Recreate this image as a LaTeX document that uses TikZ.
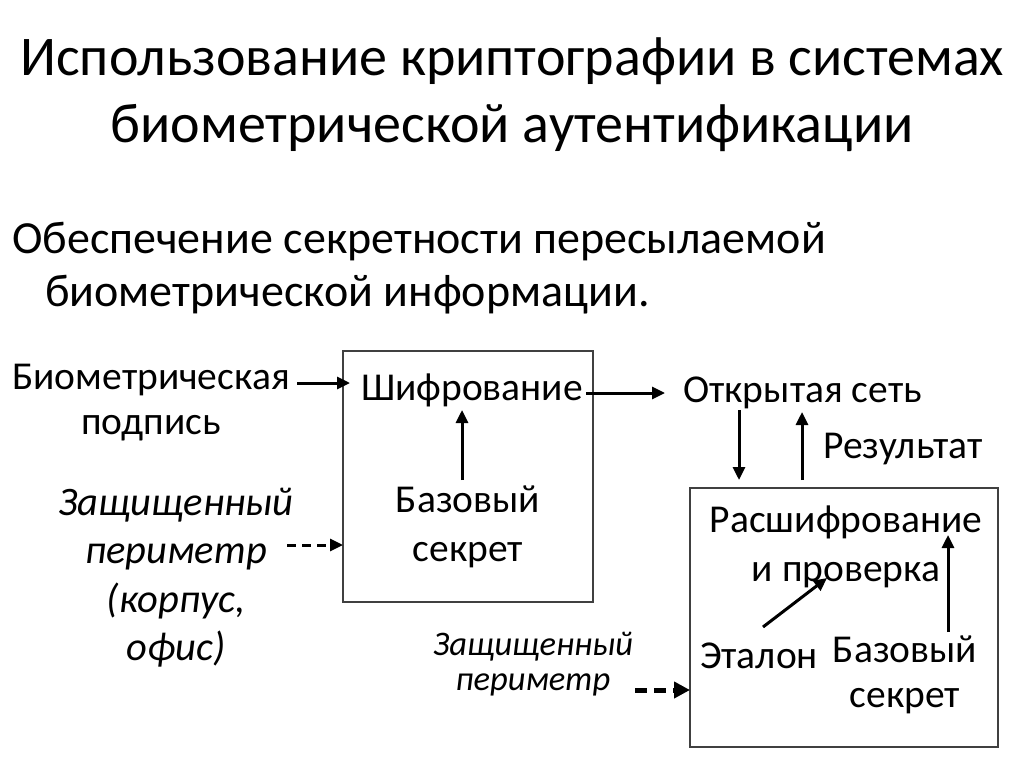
\documentclass[tikz,border=0pt]{standalone}
\usepackage{fontspec}
\setmainfont{Carlito}
\usetikzlibrary{arrows.meta}
\begin{document}
\begin{tikzpicture}[x=1pt,y=-1pt,
  ttl/.style={font=\fontsize{56}{66}\selectfont, inner sep=0pt, anchor=base},
  sub/.style={font=\fontsize{46}{54}\selectfont, inner sep=0pt, anchor=base west},
  lbl/.style={font=\fontsize{39.5}{46}\selectfont, inner sep=0pt, anchor=base},
  ilbl/.style={font=\fontsize{40.5}{47}\selectfont\itshape, inner sep=0pt, anchor=base},
  slbl/.style={font=\fontsize{34.5}{40}\selectfont\itshape, inner sep=0pt, anchor=base},
  box/.style={draw=black!75, line width=1.2pt},
  arr/.style={line width=3pt, -{Triangle[length=13pt,width=12pt]}},
  darr/.style={line width=3pt, dash pattern=on 9pt off 6pt, -{Triangle[length=13pt,width=12pt]}},
  tdarr/.style={line width=5pt, dash pattern=on 12pt off 7pt, -{Triangle[length=16pt,width=16pt]}}
]
\useasboundingbox (0,0) rectangle (1024,767);
\fill[white] (0,0) rectangle (1024,767);
% titles
\node[ttl] (t1) at (512,76) {Использование криптографии в системах};
\node[ttl] (t2) at (512,143) {биометрической аутентификации};
\node[sub] (s1) at (12,253) {Обеспечение секретности пересылаемой};
\node[sub] (s2) at (45,306) {биометрической информации.};
% boxes
\draw[box] (343,351) rectangle (593,602);
\draw[box] (690,488) rectangle (998,747);
% connector end points
\coordinate (a1s) at (297,383);
\coordinate (b1in) at (350,383);
\coordinate (a2s) at (287,545);
\coordinate (b1dash) at (343,545);
\coordinate (a3s) at (462,480);
\coordinate (a3e) at (462,410);
\coordinate (a4s) at (586,393);
\coordinate (a4e) at (665,393);
\coordinate (a5s) at (739,410);
\coordinate (b2top1) at (739,480);
\coordinate (b2top2) at (802,480);
\coordinate (a6e) at (802,412);
\coordinate (a7s) at (763,627);
\coordinate (a7e) at (827,578);
\coordinate (a8s) at (948,632);
\coordinate (a8e) at (948,535);
\coordinate (a9s) at (635,690);
\coordinate (b2dash) at (690,690);
% left texts
\node[lbl] (bio1) at (151,389) {Биометрическая};
\node[lbl] (bio2) at (151,434) {подпись};
\node[ilbl] (z1) at (176,515) {Защищенный};
\node[ilbl] (z2) at (176,563) {периметр};
\node[ilbl] (z3) at (176,612) {(корпус,};
\node[ilbl] (z4) at (176,660) {офис)};
% box1
\node[lbl] (enc) at (472,400) {Шифрование};
\node[lbl] (bs1) at (468,512) {Базовый};
\node[lbl] (bs2) at (468,561) {секрет};
% net
\node[lbl, anchor=base west] (net) at (683,402) {Открытая сеть};
\node[lbl, anchor=base west] (res) at (823,458) {Результат};
% box2
\node[lbl] (dec1) at (846,532) {Расшифрование};
\node[lbl] (dec2) at (846,581) {и проверка};
\node[lbl] (et) at (759,668) {Эталон};
\node[lbl] (bs3) at (905,662) {Базовый};
\node[lbl] (bs4) at (905,707) {секрет};
\node[slbl] (pz1) at (533,655) {Защищенный};
\node[slbl] (pz2) at (533,690) {периметр};
% arrows
\draw[arr] (a1s) -- (b1in);
\draw[darr] (a2s) -- (b1dash);
\draw[arr] (a3s) -- (a3e);
\draw[arr] (a4s) -- (a4e);
\draw[arr] (a5s) -- (b2top1);
\draw[arr] (b2top2) -- (a6e);
\draw[arr] (a7s) -- (a7e);
\draw[arr] (a8s) -- (a8e);
\draw[tdarr] (a9s) -- (b2dash);
\end{tikzpicture}
\end{document}
